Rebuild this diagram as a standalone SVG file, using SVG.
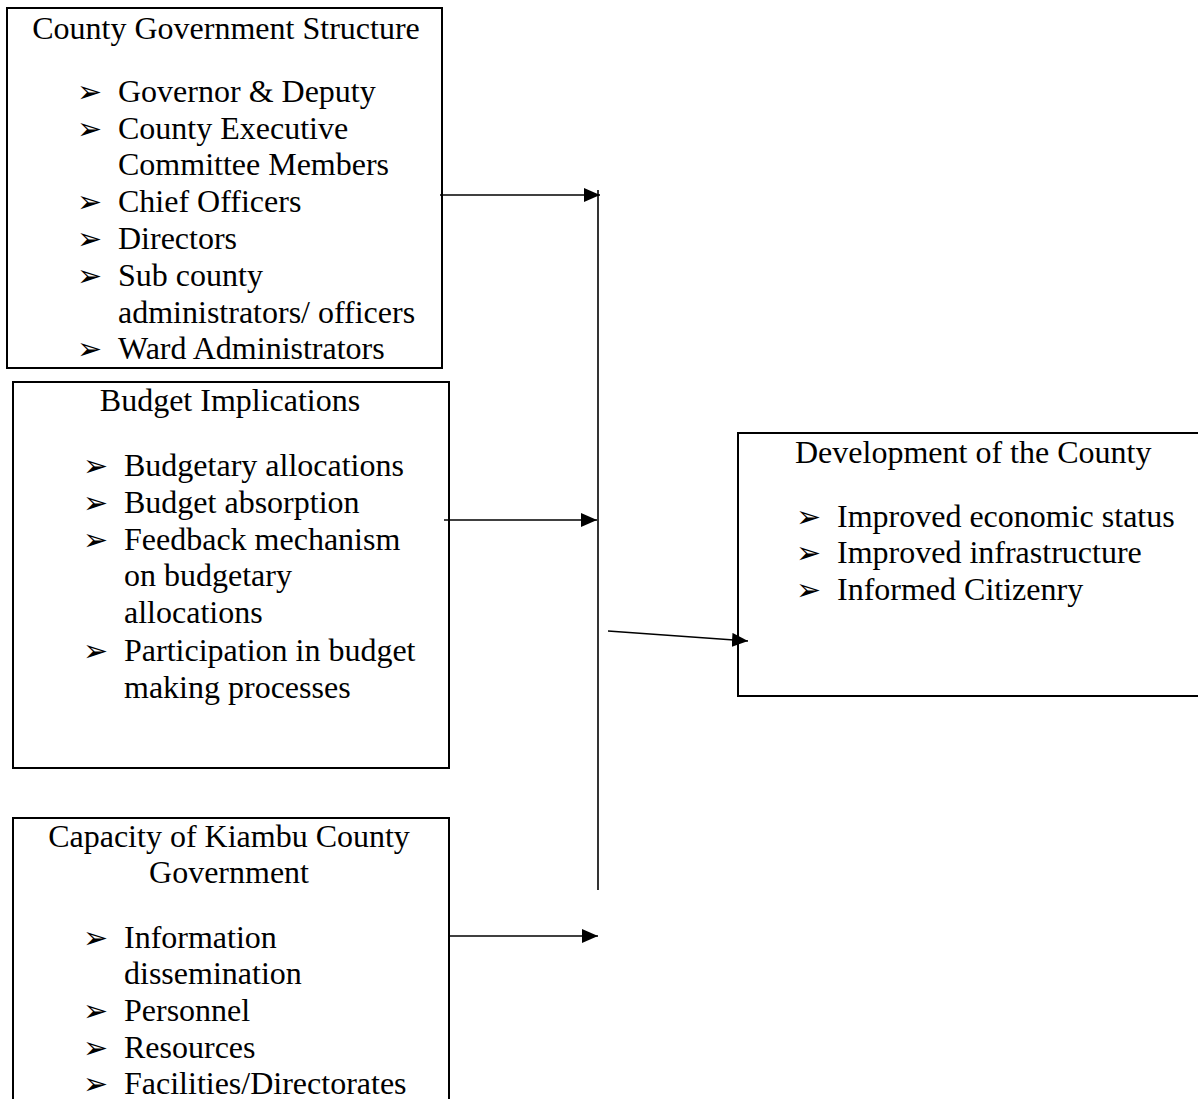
<svg xmlns="http://www.w3.org/2000/svg" width="1198" height="1099" viewBox="0 0 1198 1099">
<defs>
<marker id="ah" markerWidth="16" markerHeight="14" refX="16" refY="7" orient="auto" markerUnits="userSpaceOnUse">
<path d="M0,0 L16,7 L0,14 Z" fill="#000"/>
</marker>
</defs>
<style>
.box{fill:#fff;stroke:#000;stroke-width:2}
.t{font-family:'Liberation Serif','Times New Roman','DejaVu Serif',serif;font-size:32px;fill:#000}
.b{font-family:'DejaVu Sans',sans-serif;font-size:30px;fill:#000}
.c{fill:none;stroke:#000;stroke-width:1.6}
</style>
<rect width="1198" height="1099" fill="#fff"/>
<g id="node-structure">
<rect class="box" x="7" y="8" width="435" height="360"/>
<text class="t" x="226" y="39" text-anchor="middle">County Government Structure</text>
<text class="b" x="77" y="102">➢</text><text class="t" x="118" y="102">Governor &amp; Deputy</text>
<text class="b" x="77" y="139">➢</text><text class="t" x="118" y="139">County Executive</text>
<text class="t" x="118" y="175">Committee Members</text>
<text class="b" x="77" y="212">➢</text><text class="t" x="118" y="212">Chief Officers</text>
<text class="b" x="77" y="249">➢</text><text class="t" x="118" y="249">Directors</text>
<text class="b" x="77" y="286">➢</text><text class="t" x="118" y="286">Sub county</text>
<text class="t" x="118" y="323">administrators/ officers</text>
<text class="b" x="77" y="359">➢</text><text class="t" x="118" y="359">Ward Administrators</text>
</g>
<g id="node-budget">
<rect class="box" x="13" y="382" width="436" height="386"/>
<text class="t" x="230" y="411" text-anchor="middle">Budget Implications</text>
<text class="b" x="83" y="476">➢</text><text class="t" x="124" y="476">Budgetary allocations</text>
<text class="b" x="83" y="513">➢</text><text class="t" x="124" y="513">Budget absorption</text>
<text class="b" x="83" y="550">➢</text><text class="t" x="124" y="550">Feedback mechanism</text>
<text class="t" x="124" y="586">on budgetary</text>
<text class="t" x="124" y="623">allocations</text>
<text class="b" x="83" y="661">➢</text><text class="t" x="124" y="661">Participation in budget</text>
<text class="t" x="124" y="698">making processes</text>
</g>
<g id="node-capacity">
<rect class="box" x="13" y="818" width="436" height="290"/>
<text class="t" x="229" y="847" text-anchor="middle">Capacity of Kiambu County</text>
<text class="t" x="229" y="883" text-anchor="middle">Government</text>
<text class="b" x="83" y="948">➢</text><text class="t" x="124" y="948">Information</text>
<text class="t" x="124" y="984">dissemination</text>
<text class="b" x="83" y="1021">➢</text><text class="t" x="124" y="1021">Personnel</text>
<text class="b" x="83" y="1058">➢</text><text class="t" x="124" y="1058">Resources</text>
<text class="b" x="83" y="1094">➢</text><text class="t" x="124" y="1094">Facilities/Directorates</text>
</g>
<g id="node-development">
<rect class="box" x="738" y="433" width="470" height="263"/>
<text class="t" x="795" y="463">Development of the County</text>
<text class="b" x="796" y="527">➢</text><text class="t" x="837" y="527">Improved economic status</text>
<text class="b" x="796" y="563">➢</text><text class="t" x="837" y="563">Improved infrastructure</text>
<text class="b" x="796" y="600">➢</text><text class="t" x="837" y="600">Informed Citizenry</text>
</g>
<g id="connectors">
<line class="c" x1="598" y1="190" x2="598" y2="890"/>
<line class="c" x1="440" y1="195" x2="600" y2="195" marker-end="url(#ah)"/>
<line class="c" x1="444" y1="520" x2="597" y2="520" marker-end="url(#ah)"/>
<line class="c" x1="449" y1="936" x2="598" y2="936" marker-end="url(#ah)"/>
<line class="c" x1="608" y1="631" x2="748" y2="641" marker-end="url(#ah)"/>
</g>
</svg>
